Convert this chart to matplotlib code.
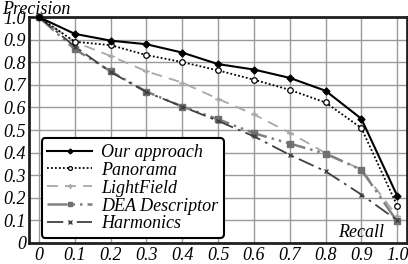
import matplotlib
matplotlib.use("Agg")
import matplotlib.pyplot as plt

recall = [0.0, 0.1, 0.2, 0.3, 0.4, 0.5, 0.6, 0.7, 0.8, 0.9, 1.0]
our_approach = [1.0, 0.926, 0.896, 0.880, 0.843, 0.792, 0.768, 0.731, 0.674, 0.550, 0.209]
panorama = [1.0, 0.891, 0.876, 0.832, 0.801, 0.764, 0.723, 0.678, 0.622, 0.509, 0.165]
lightfield = [1.0, 0.89, 0.828, 0.760, 0.710, 0.638, 0.569, 0.488, 0.398, 0.325, 0.118]
dea = [1.0, 0.858, 0.760, 0.670, 0.604, 0.548, 0.486, 0.440, 0.395, 0.324, 0.095]
harmonics = [1.0, 0.870, 0.757, 0.668, 0.604, 0.540, 0.472, 0.390, 0.317, 0.214, 0.100]
xticklabels = ["0", "0.1", "0.2", "0.3", "0.4", "0.5", "0.6", "0.7", "0.8", "0.9", "1.0"]
yticks = [0, 0.1, 0.2, 0.3, 0.4, 0.5, 0.6, 0.7, 0.8, 0.9, 1.0]
yticklabels = ["0", "0.1", "0.2", "0.3", "0.4", "0.5", "0.6", "0.7", "0.8", "0.9", "1.0"]

plt.rcParams['font.family'] = ['Liberation Serif', 'DejaVu Serif']
plt.rcParams['font.style'] = 'italic'

FS = 13

fig = plt.figure(figsize=(4.08, 2.64), dpi=100)
ax = fig.add_axes([0.071, 0.08, 0.927, 0.855])

ax.plot(recall, lightfield, color='#a8a8a8', lw=1.3, dashes=(6, 4), marker=(4, 2, 0), ms=4,
        mec='#a8a8a8', label='LightField', clip_on=False, zorder=3)
ax.plot(recall, dea, color='#808080', lw=1.8, dashes=(8, 2, 1, 2, 1, 2), marker='s', ms=4,
        mfc='#707070', mec='#707070', label='DEA Descriptor', clip_on=False, zorder=3)
ax.plot(recall, harmonics, color='#404040', lw=1.3, dashes=(9, 3, 1.5, 3), marker='x', ms=3.5,
        mec='#404040', label='Harmonics', clip_on=False, zorder=3)
ax.plot(recall, panorama, color='black', lw=1.3, ls=(0, (1, 1.2)), marker='o', ms=4,
        mfc='white', mec='black', mew=0.9, label='Panorama', clip_on=False, zorder=4)
ax.plot(recall, our_approach, color='black', lw=1.5, marker='D', ms=3.5,
        mfc='black', mec='black', label='Our approach', clip_on=False, zorder=5)

ax.set_xlim(-0.028, 1.028)
ax.set_ylim(0, 1.0)
ax.set_xticks(recall)
ax.set_xticklabels(xticklabels)
ax.set_yticks(yticks)
ax.set_yticklabels(yticklabels)
ax.tick_params(axis='x', length=0, labelsize=FS, pad=3)
ax.tick_params(axis='y', length=0, labelsize=FS, pad=2)
ax.grid(True, color='#9a9a9a', lw=1.0)
ax.set_axisbelow(True)
for s in ax.spines.values():
    s.set_linewidth(2)
    s.set_color('#202020')

handles, labels = ax.get_legend_handles_labels()
order = [4, 3, 0, 1, 2]
leg = ax.legend([handles[i] for i in order], [labels[i] for i in order],
                loc='lower left', bbox_to_anchor=(0.034, 0.022), borderaxespad=0,
                fontsize=FS, frameon=True, fancybox=True, handlelength=2.5,
                handletextpad=0.5, labelspacing=0.05, borderpad=0.3, markerscale=0.7)
leg.get_frame().set_edgecolor('black')
leg.get_frame().set_linewidth(1.5)
leg.get_frame().set_alpha(1)

fig.text(0.005, 0.998, 'Precision', fontsize=FS, ha='left', va='top')
ax.text(0.94, 0.01, 'Recall', fontsize=FS, ha='right', va='bottom', transform=ax.transAxes)

fig.savefig('out.png', dpi=100)
